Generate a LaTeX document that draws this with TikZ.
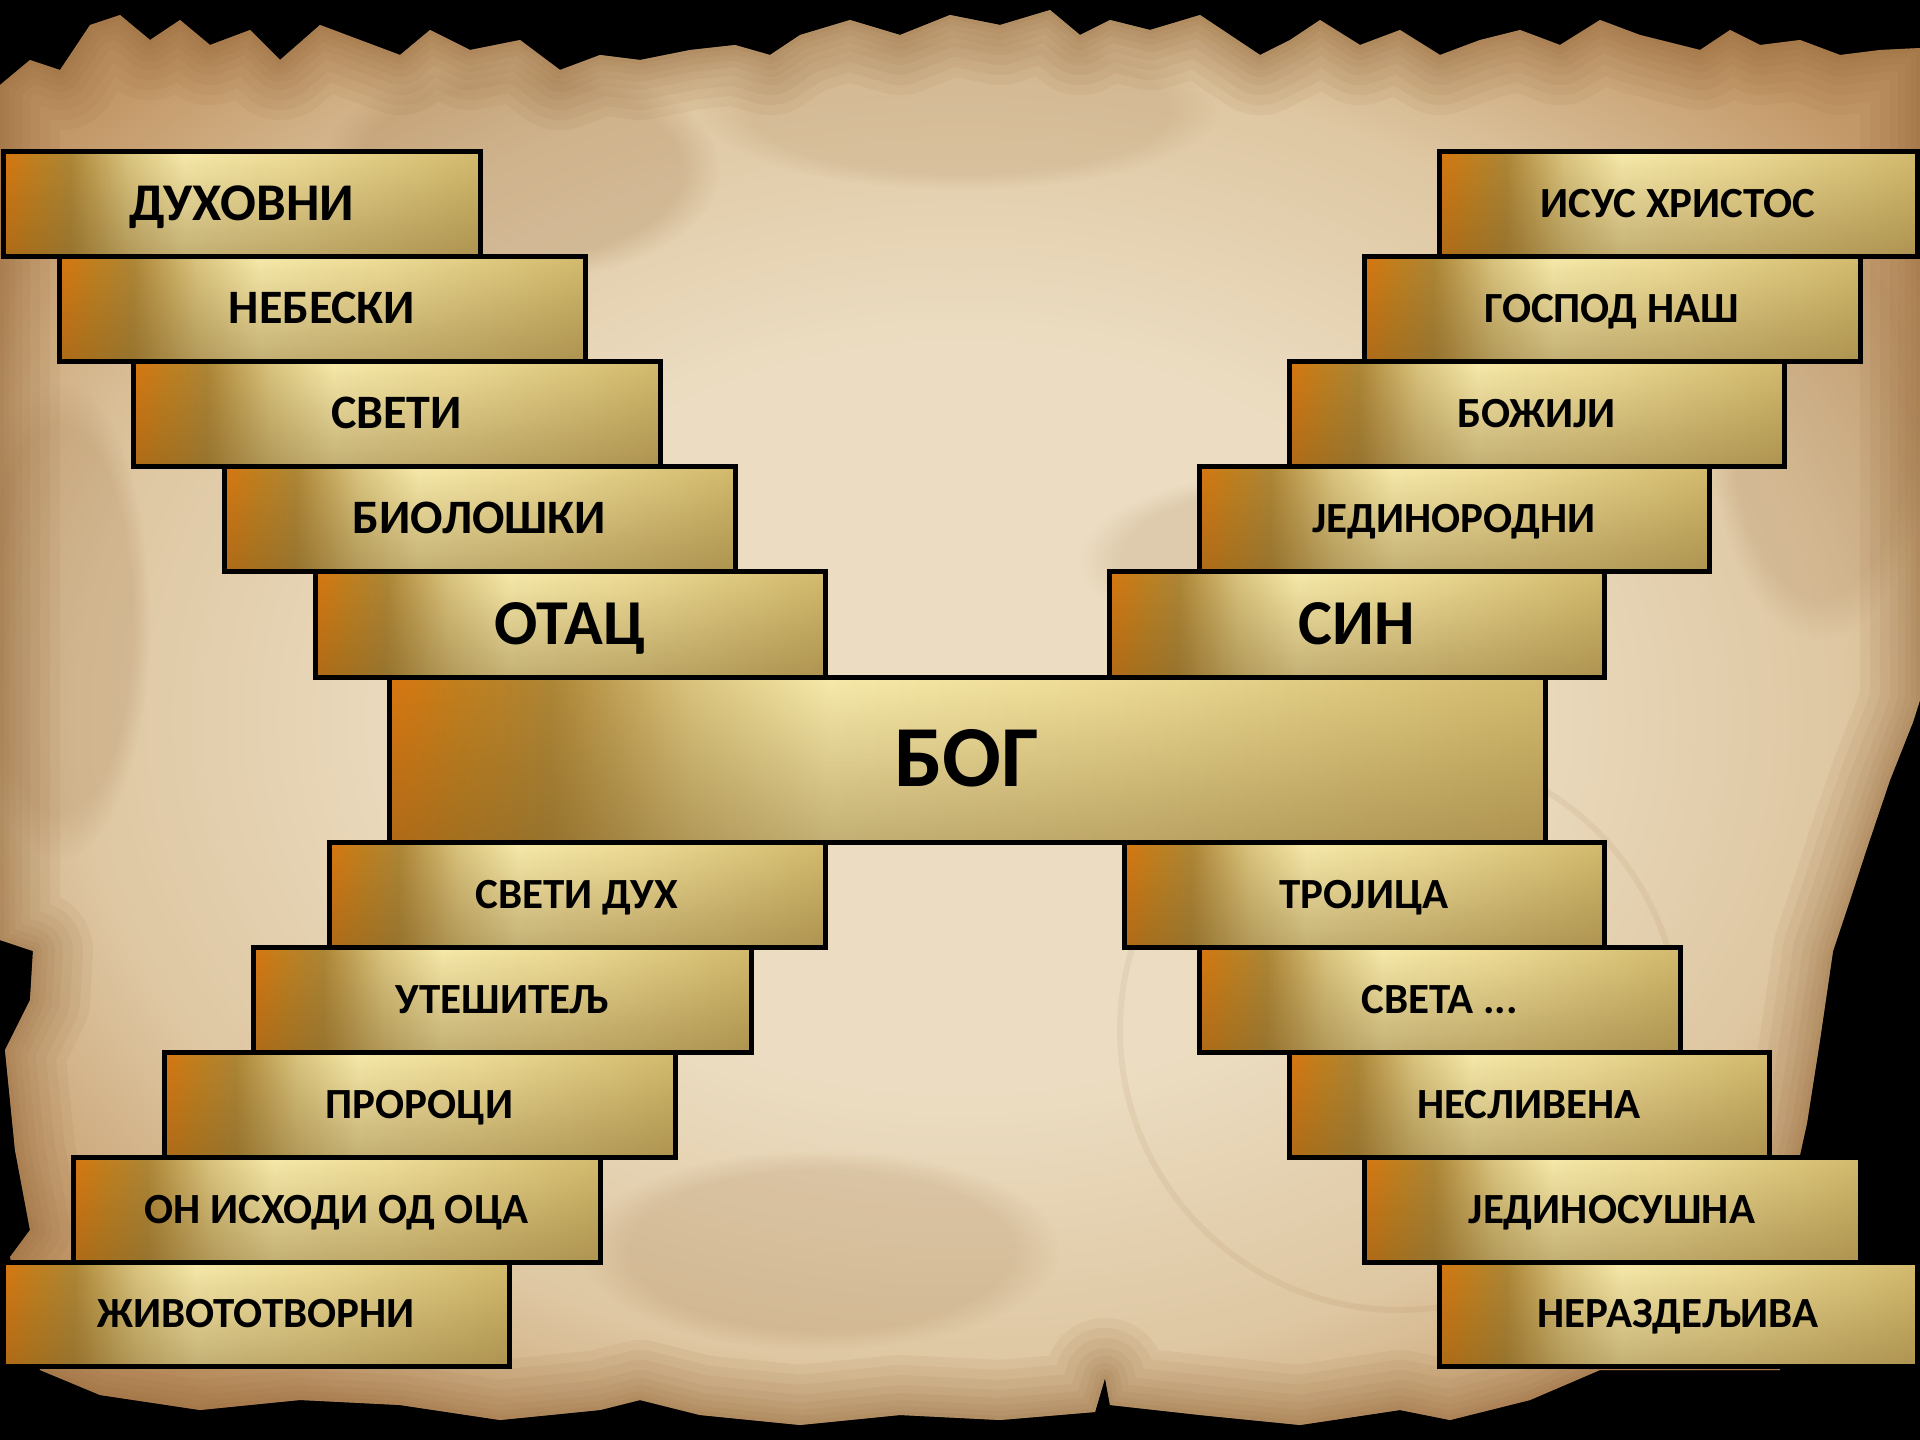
\documentclass[tikz,border=0pt]{standalone}
\usepackage{fontspec}
\setmainfont{Carlito}
\usetikzlibrary{fadings}
\definecolor{g1}{HTML}{D97710}
\definecolor{g2}{HTML}{C2801E}
\definecolor{g3}{HTML}{AE8636}
\definecolor{g4}{HTML}{DAC47E}
\definecolor{g5}{HTML}{F7EAAA}
\definecolor{g6}{HTML}{EEDC96}
\definecolor{g7}{HTML}{D3BB6E}
\definecolor{p1}{HTML}{ECDDC2}
\definecolor{p2}{HTML}{DEC7A2}
\definecolor{p3}{HTML}{C39868}
\definecolor{burn}{HTML}{8A5A2C}
\definecolor{dkover}{HTML}{765822}
\pgfdeclarehorizontalshading{goldsh}{100bp}{color(0bp)=(g1); color(25bp)=(g1); color(28bp)=(g2); color(32bp)=(g3); color(38bp)=(g4); color(44bp)=(g5); color(56bp)=(g6); color(75bp)=(g7); color(100bp)=(g7)}
\pgfdeclareradialshading{parch}{\pgfpoint{0bp}{0bp}}{color(0bp)=(p1); color(13bp)=(p1); color(23bp)=(p2); color(31bp)=(p3); color(50bp)=(p3)}
\tikzfading[name=dkfade, top color=transparent!100, bottom color=transparent!60]
\tikzset{
  gbox/.style={draw=black, line width=5pt, shade, shading=goldsh, inner sep=0pt, text=black,
    path picture={\fill[dkover, path fading=dkfade, fit fading=true] (path picture bounding box.south west) rectangle (path picture bounding box.north east);}},
  blot/.style={fill=burn, path fading=circle with fuzzy edge 20 percent, fit fading=true}
}
\newcommand\goldbox[7]{\node[gbox, minimum width={(#4-#2)*1pt}, minimum height={(#5-#3)*1pt}, text height={0.63*#6*1pt}, text depth=0pt, font=\bfseries\fontsize{#6}{#6}\selectfont] (#1) at ({(#2+#4)/2},{(#3+#5)/2+2}) {#7};}
\newcommand\parchpath{(0,85) -- (30,60) -- (60,70) -- (90,25) -- (120,15) -- (150,40) -- (180,20) -- (210,45) -- (250,30) -- (280,60) -- (320,25) -- (360,40) -- (400,55) -- (430,30) -- (470,50) -- (520,40) -- (560,70) -- (600,55) -- (640,60) -- (690,50) -- (735,45) -- (770,55) -- (800,35) -- (850,20) -- (900,35) -- (950,15) -- (1000,25) -- (1050,10) -- (1080,35) -- (1110,20) -- (1150,30) -- (1200,15) -- (1260,55) -- (1290,40) -- (1320,20) -- (1360,45) -- (1400,30) -- (1440,55) -- (1480,40) -- (1520,30) -- (1560,45) -- (1600,20) -- (1640,35) -- (1700,50) -- (1730,30) -- (1760,45) -- (1800,40) -- (1840,55) -- (1880,50) -- (1920,48) -- (1920,700) -- (1913,722) -- (1890,780) -- (1867,848) -- (1850,900) -- (1833,951) -- (1820,1040) -- (1807,1123) -- (1790,1200) -- (1780,1370) -- (1600,1370) -- (1530,1400) -- (1450,1420) -- (1400,1410) -- (1300,1425) -- (1200,1415) -- (1110,1405) -- (1105,1378) -- (1095,1412) -- (1000,1420) -- (900,1415) -- (800,1425) -- (700,1415) -- (640,1400) -- (600,1410) -- (500,1420) -- (400,1405) -- (300,1400) -- (200,1410) -- (100,1395) -- (40,1370) -- (10,1257) -- (30,1230) -- (15,1150) -- (5,1050) -- (30,1000) -- (33,951) -- (0,940) -- cycle}
\begin{document}
\begin{tikzpicture}[x=1pt,y=-1pt]
\path[use as bounding box] (0,0) rectangle (1920,1440);
\fill[black] (0,0) rectangle (1920,1440);
\shade[shading=parch] \parchpath;
\begin{scope}
\clip \parchpath;
\foreach \w in {120,100,80,60,44,30,18,8}
  \draw[burn, line width=\w pt, opacity=0.07, line join=round] \parchpath;
\fill[blot, opacity=0.18] (520,170) ellipse [x radius=200, y radius=110];
\fill[blot, opacity=0.14] (1300,560) ellipse [x radius=220, y radius=90];
\fill[blot, opacity=0.14] (820,1250) ellipse [x radius=240, y radius=100];
\fill[blot, opacity=0.16] (60,620) ellipse [x radius=90, y radius=240];
\fill[blot, opacity=0.14] (1820,420) ellipse [x radius=110, y radius=220];
\fill[blot, opacity=0.12] (960,110) ellipse [x radius=260, y radius=80];
\draw[burn, line width=6pt, opacity=0.08] (1400,1030) circle [radius=280];
\end{scope}
% left column
\goldbox{dux}{3}{149}{480}{254}{53}{ДУХОВНИ}
\goldbox{neb}{59}{254}{585}{359}{48}{НЕБЕСКИ}
\goldbox{svet}{133}{359}{660}{464}{48}{СВЕТИ}
\goldbox{bio}{224}{464}{735}{569}{48}{БИОЛОШКИ}
\goldbox{otac}{315}{569}{825}{675}{64}{ОТАЦ}
% right column
\goldbox{isus}{1439}{149}{1917}{254}{43}{ИСУС ХРИСТОС}
\goldbox{gos}{1364}{254}{1860}{359}{43}{ГОСПОД НАШ}
\goldbox{boz}{1289}{359}{1784}{464}{43}{БОЖИЈИ}
\goldbox{jed}{1199}{464}{1709}{569}{43}{ЈЕДИНОРОДНИ}
\goldbox{sin}{1109}{569}{1604}{675}{64}{СИН}
% centre
\goldbox{bog}{389}{675}{1545}{840}{87}{БОГ}
% lower left
\goldbox{sd}{329}{840}{825}{945}{43}{СВЕТИ ДУХ}
\goldbox{ut}{253}{945}{751}{1050}{43}{УТЕШИТЕЉ}
\goldbox{pro}{164}{1050}{675}{1155}{43}{ПРОРОЦИ}
\goldbox{onis}{73}{1155}{600}{1260}{43}{ОН ИСХОДИ ОД ОЦА}
\goldbox{ziv}{3}{1260}{509}{1364}{43}{ЖИВОТОТВОРНИ}
% lower right
\goldbox{troj}{1124}{840}{1604}{945}{43}{ТРОЈИЦА}
\goldbox{sveta}{1199}{945}{1680}{1050}{43}{СВЕТА ...}
\goldbox{nesl}{1289}{1050}{1769}{1155}{43}{НЕСЛИВЕНА}
\goldbox{jeds}{1364}{1155}{1860}{1260}{43}{ЈЕДИНОСУШНА}
\goldbox{ner}{1439}{1260}{1917}{1364}{43}{НЕРАЗДЕЉИВА}
\end{tikzpicture}
\end{document}
